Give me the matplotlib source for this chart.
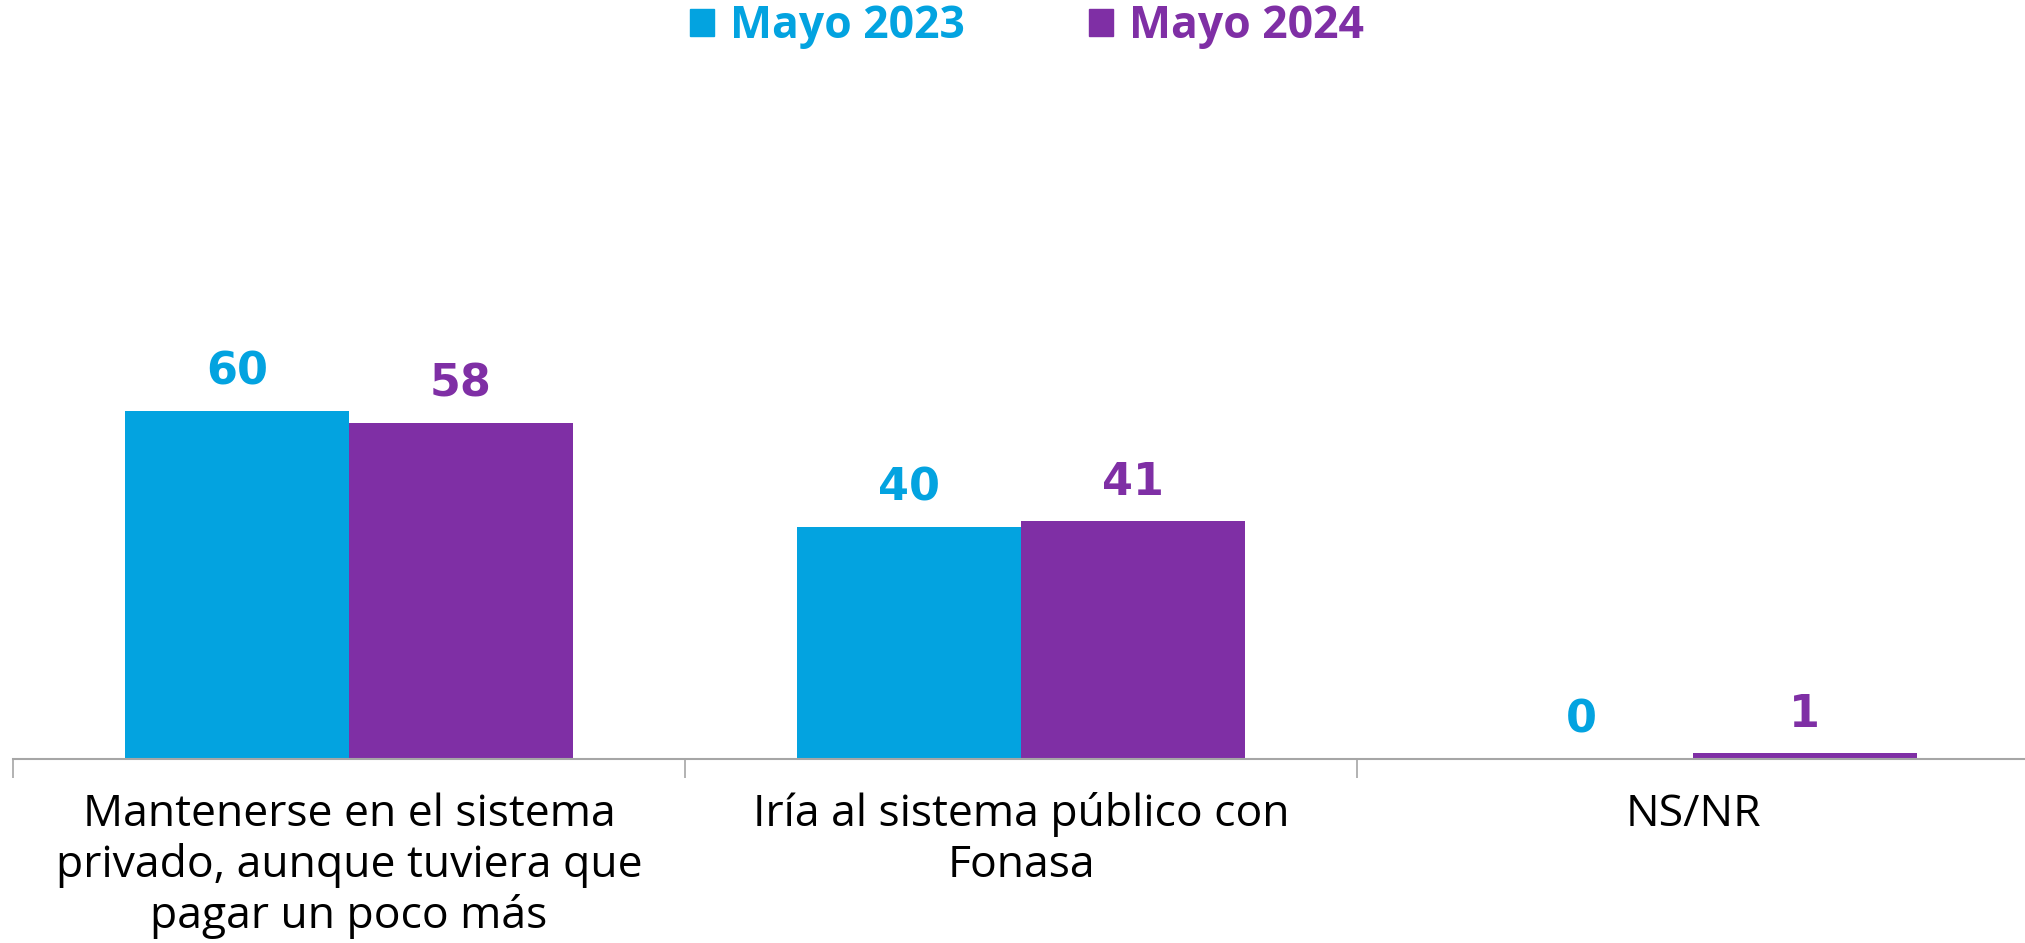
import numpy as np
import matplotlib.pyplot as plt
from matplotlib.patches import Patch

categorias = [
    "Mantenerse en el sistema\nprivado, aunque tuviera que\npagar un poco más",
    "Iría al sistema público con\nFonasa",
    "NS/NR",
]
series = ["Mayo 2023", "Mayo 2024"]
valores_2023 = [60, 40, 0]
valores_2024 = [58, 41, 1]

azul = "#03A3E0"
morado = "#7F2FA5"

plt.rcParams['font.family'] = ['Open Sans', 'DejaVu Sans']

fig = plt.figure(figsize=(20.25, 9.43), dpi=100)
ax = fig.add_axes([13 / 2025, 0.195, 2016 / 2025, 0.615])

x = np.arange(len(categorias))
ancho = 0.333
b1 = ax.bar(x - ancho / 2, valores_2023, ancho, color=azul)
b2 = ax.bar(x + ancho / 2, valores_2024, ancho, color=morado)

# etiquetas de valores sobre las barras
for barras, vals, col in [(b1, valores_2023, azul), (b2, valores_2024, morado)]:
    for rect, v in zip(barras, vals):
        ax.annotate(f"{v}", (rect.get_x() + rect.get_width() / 2, v),
                    xytext=(0, 28), textcoords="offset points",
                    ha="center", va="center", fontsize=32,
                    fontweight="bold", family="DejaVu Sans", color=col)

ax.set_xlim(-0.5, 2.5)
ax.set_ylim(0, 100)
ax.set_yticks([])
for s in ["top", "right", "left"]:
    ax.spines[s].set_visible(False)
ax.spines["bottom"].set_color("#A6A6A6")
ax.spines["bottom"].set_linewidth(1.5)

# marcas separadoras entre categorias
ax.set_xticks([-0.5, 0.5, 1.5])
ax.tick_params(axis="x", which="major", length=14, width=1.2, color="#A6A6A6",
               labelbottom=False)
ax.set_xticks(x, minor=True)
ax.set_xticklabels(categorias, minor=True, fontsize=32, linespacing=1.18)
ax.tick_params(axis="x", which="minor", length=0, pad=24)

handles = [Patch(color=azul), Patch(color=morado)]
fig.legend(handles, series, loc="center", bbox_to_anchor=(0.507, 0.972),
           ncol=2, frameon=False, labelcolor=[azul, morado],
           prop={"weight": "bold", "size": 32}, handlelength=0.55,
           handleheight=0.55, handletextpad=0.35, columnspacing=2.8)

fig.savefig("out.png", dpi=100)
